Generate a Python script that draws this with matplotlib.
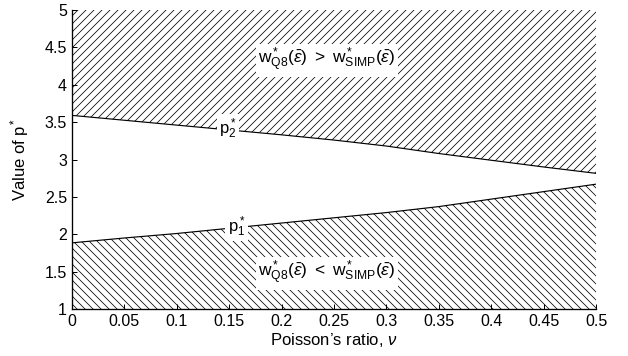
import matplotlib
matplotlib.use("Agg")
import matplotlib.pyplot as plt

# datos
nu = [0, 0.05, 0.1, 0.15, 0.2, 0.25, 0.3, 0.35, 0.4, 0.45, 0.5]
p2 = [3.59, 3.525, 3.46, 3.395, 3.33, 3.26, 3.18, 3.08, 2.99, 2.90, 2.815]
p1 = [1.885, 1.95, 2.01, 2.08, 2.15, 2.22, 2.29, 2.37, 2.47, 2.57, 2.67]

x_ticks = [0, 0.05, 0.1, 0.15, 0.2, 0.25, 0.3, 0.35, 0.4, 0.45, 0.5]
x_tick_labels = ["0", "0.05", "0.1", "0.15", "0.2", "0.25", "0.3", "0.35", "0.4", "0.45", "0.5"]
y_ticks = [1, 1.5, 2, 2.5, 3, 3.5, 4, 4.5, 5]
y_tick_labels = ["1", "1.5", "2", "2.5", "3", "3.5", "4", "4.5", "5"]

plt.rcParams['font.family'] = ['Liberation Sans', 'DejaVu Sans']
plt.rcParams['mathtext.fontset'] = 'custom'
plt.rcParams['mathtext.rm'] = 'Liberation Sans'
plt.rcParams['mathtext.sf'] = 'Liberation Sans'
plt.rcParams['mathtext.it'] = 'Liberation Sans:italic'
plt.rcParams['mathtext.bf'] = 'Liberation Sans:bold'
plt.rcParams['hatch.linewidth'] = 0.45
plt.rcParams['hatch.color'] = 'black'

fig = plt.figure(figsize=(628 / 120, 356 / 120), dpi=120)
ax = fig.add_axes([72 / 628, 1 - 309 / 356, (596 - 72) / 628, (309 - 10) / 356])

# zonas rayadas
ax.fill_between(nu, p2, 5, facecolor='none', edgecolor='black', hatch='/////', linewidth=0)
ax.fill_between(nu, 1, p1, facecolor='none', edgecolor='black', hatch='\\\\\\\\\\', linewidth=0)
ax.plot(nu, p2, color='black', linewidth=0.7)
ax.plot(nu, p1, color='black', linewidth=0.7)

caja = dict(facecolor='white', edgecolor='none', pad=1.5)
ax.text(0.149, 3.41, r'p$_2^*$', fontsize=10, ha='center', va='center', bbox=caja)
ax.text(0.157, 2.10, r'p$_1^*$', fontsize=10, ha='center', va='center', bbox=caja)
ax.text(0.243, 4.33, r'w$^*_{\mathrm{Q8}}(\bar{\epsilon})\ >\ $w$^*_{\mathrm{SIMP}}(\bar{\epsilon})$',
        fontsize=10.4, ha='center', va='center', bbox=caja)
ax.text(0.243, 1.48, r'w$^*_{\mathrm{Q8}}(\bar{\epsilon})\ <\ $w$^*_{\mathrm{SIMP}}(\bar{\epsilon})$',
        fontsize=10.4, ha='center', va='center', bbox=caja)

ax.set_xlim(0, 0.5)
ax.set_ylim(1, 5)
ax.set_xticks(x_ticks)
ax.set_xticklabels(x_tick_labels)
ax.set_yticks(y_ticks)
ax.set_yticklabels(y_tick_labels)
ax.tick_params(direction='in', length=3, width=0.6, labelsize=9.6, pad=3)
ax.spines['top'].set_visible(False)
ax.spines['right'].set_visible(False)
ax.spines['left'].set_linewidth(0.8)
ax.spines['bottom'].set_linewidth(0.8)

ax.set_xlabel('Poisson\u2019s ratio, $\\nu$', fontsize=10, labelpad=1)
ax.set_ylabel('Value of p$^*$', fontsize=10, labelpad=8)

fig.savefig('out.png', dpi=120)
